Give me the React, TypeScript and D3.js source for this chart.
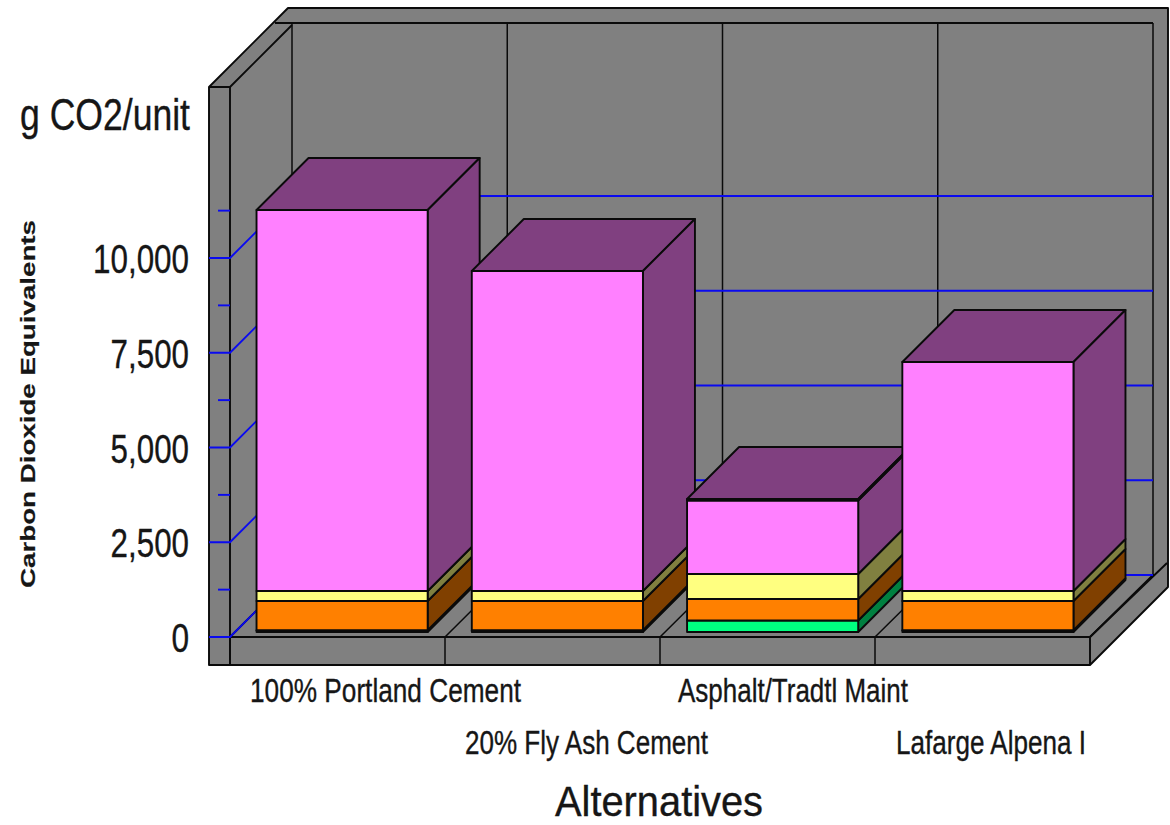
import React from "react";
import * as d3 from "d3";

// Carbon dioxide equivalents per unit, by pavement alternative
const categories = ["100% Portland Cement", "20% Fly Ash Cement", "Asphalt/Tradtl Maint", "Lafarge Alpena I"];
const layerA = [45, 45, 303, 45];
const layerB = [773, 773, 568, 773];
const layerC = [264, 264, 659, 264];
const layerD = [10053, 8443, 1939, 6042];
const layerE = [0, 0, 40, 0];
const layerFronts = ["#00FF80", "#FF8000", "#FFFF80", "#FF80FF", "#000000"];
const layerSides = ["#008040", "#804000", "#808040", "#804080", "#804080"];
const axisTicks = [0, 2500, 5000, 7500, 10000];
const minorTicks = [1250, 3750, 6250, 8750, 11250];

const GRAY = "#808080";
const BLUE = "#0A0AF0";
const INK = "#161616";
const FONT = "'Liberation Sans', Arial, sans-serif";

const wallDepth = 62;
const barDepth = 52;
const barInset = 5;
const floorFront = 637;
const plinthBottom = 665;
const wallLeft = 230;
const wallRight = 1090;

const y = d3.scaleLinear().domain([0, 2500]).range([floorFront, floorFront - 94.75]);
const x = d3.scaleBand<string>()
  .domain(categories)
  .range([wallLeft + barInset, wallRight + barInset])
  .paddingInner(0.205)
  .paddingOuter(0.1);

const rows = categories.map((c, i) => ({ c, a: layerA[i], b: layerB[i], c2: layerC[i], d: layerD[i], e: layerE[i] }));
const stacked = d3.stack<any>().keys(["a", "b", "c2", "d", "e"])(rows);

const poly = (pts: number[][]) => d3.line()(pts as [number, number][]) + "Z";
const edge = { stroke: "#0a0a0a", strokeWidth: 1.9, strokeLinejoin: "round" as const };

function Bars() {
  const drop = y(0) - barInset;
  const h = (v: number) => drop - (y(0) - y(v));
  return (
    <g>
      {categories.map((c, i) => {
        const x0 = x(c)!;
        const x1 = x0 + x.bandwidth();
        const topV = stacked[4][i][1];
        return (
          <g key={c}>
            <path d={poly([[x0, h(topV)], [x1, h(topV)], [x1 + barDepth, h(topV) - barDepth], [x0 + barDepth, h(topV) - barDepth]])} fill={layerSides[3]} {...edge} />
            {stacked.map((s, k) => {
              const lo = h(s[i][0]);
              const hi = h(s[i][1]);
              if (hi === lo) return null;
              return (
                <g key={k}>
                  <path d={poly([[x1, lo], [x1 + barDepth, lo - barDepth], [x1 + barDepth, hi - barDepth], [x1, hi]])} fill={layerSides[k]} {...edge} />
                  <rect x={x0} y={hi} width={x1 - x0} height={lo - hi} fill={layerFronts[k]} {...edge} />
                </g>
              );
            })}
          </g>
        );
      })}
    </g>
  );
}

function Frame() {
  const backBottom = floorFront - wallDepth;
  const back = wallLeft + wallDepth;
  const backR = wallRight + wallDepth + 1;
  const dividers = d3.range(0, 5);
  const frontX = d3.scaleLinear().domain([0, 4]).range([wallLeft, wallRight]);
  const backX = d3.scaleLinear().domain([0, 4]).range([back, backR]);
  return (
    <g>
      {/* outer silhouette of the walls, rims and plinth */}
      <path d={poly([[288, 8], [1168, 8], [1168, 587], [1090, 665], [209, 665], [209, 87]])} fill={GRAY} {...edge} />
      {/* left wall */}
      <path d={`M209,87L230,87L${back},25`} fill="none" {...edge} />
      <path d={`M230,87V${plinthBottom}`} fill="none" {...edge} />
      <path d={`M275,23H${backR}`} fill="none" {...edge} />
      {dividers.map((i) => (
        <path key={i} d={`M${backX(i)},23V${backBottom}`} fill="none" stroke="#0a0a0a" strokeWidth={1.5} />
      ))}
      {/* floor and plinth */}
      <path d={poly([[wallLeft, floorFront], [wallRight, floorFront], [backR, backBottom], [back, backBottom]])} fill={GRAY} {...edge} />
      <path d={`M209,${floorFront}H${wallRight}V${plinthBottom}M${wallRight},${floorFront}L1167,563`} fill="none" {...edge} />
      {dividers.slice(0, 4).map((i) => (
        <path key={i} d={`M${frontX(i)},${floorFront}V${plinthBottom}M${frontX(i)},${floorFront}L${backX(i)},${backBottom}`} fill="none" stroke="#0a0a0a" strokeWidth={1.5} />
      ))}
      {/* gridlines on the left and back walls */}
      {axisTicks.map((t) => (
        <path key={t} d={`M209,${y(t)}H${wallLeft}L${back},${y(t) - wallDepth}H${backR}`} fill="none" stroke={BLUE} strokeWidth={1.9} />
      ))}
      {minorTicks.map((t) => (
        <path key={t} d={`M218,${y(t)}H${wallLeft}`} fill="none" stroke={BLUE} strokeWidth={1.9} />
      ))}
    </g>
  );
}

function Label(p: { x: number; y: number; len: number; size: number; children: string; bold?: boolean }) {
  return (
    <text x={p.x} y={p.y} fontSize={p.size} fontFamily={FONT} fill={INK} stroke={INK} strokeWidth={p.bold ? 0.2 : 0.35}
      fontWeight={p.bold ? 700 : 400} textLength={p.len} lengthAdjust="spacingAndGlyphs">
      {p.children}
    </text>
  );
}

export default function App() {
  const tickFmt = d3.format(",");
  const labelY = [702, 754];
  const labelX = [250, 465, 678, 896];
  const labelLen = [271, 243, 230, 190];
  return (
    <svg width={1170} height={825} style={{ position: "absolute", left: 0, top: 0, background: "#fff" }}>
      <Frame />
      <Bars />
      <Label x={20} y={130} len={170} size={44}>g CO2/unit</Label>
      {axisTicks.map((t) => {
        const s = tickFmt(t);
        const w = s.replace(",", "").length * 17.6 + (s.includes(",") ? 8 : 0);
        return <Label key={t} x={189 - w} y={y(t) + 15} len={w} size={41}>{s}</Label>;
      })}
      <g transform="translate(35,588) rotate(-90)">
        <Label x={0} y={0} len={368} size={21} bold>Carbon Dioxide Equivalents</Label>
      </g>
      {categories.map((c, i) => (
        <Label key={c} x={labelX[i]} y={labelY[i % 2]} len={labelLen[i]} size={33}>{c}</Label>
      ))}
      <Label x={555} y={816} len={208} size={42}>Alternatives</Label>
    </svg>
  );
}
